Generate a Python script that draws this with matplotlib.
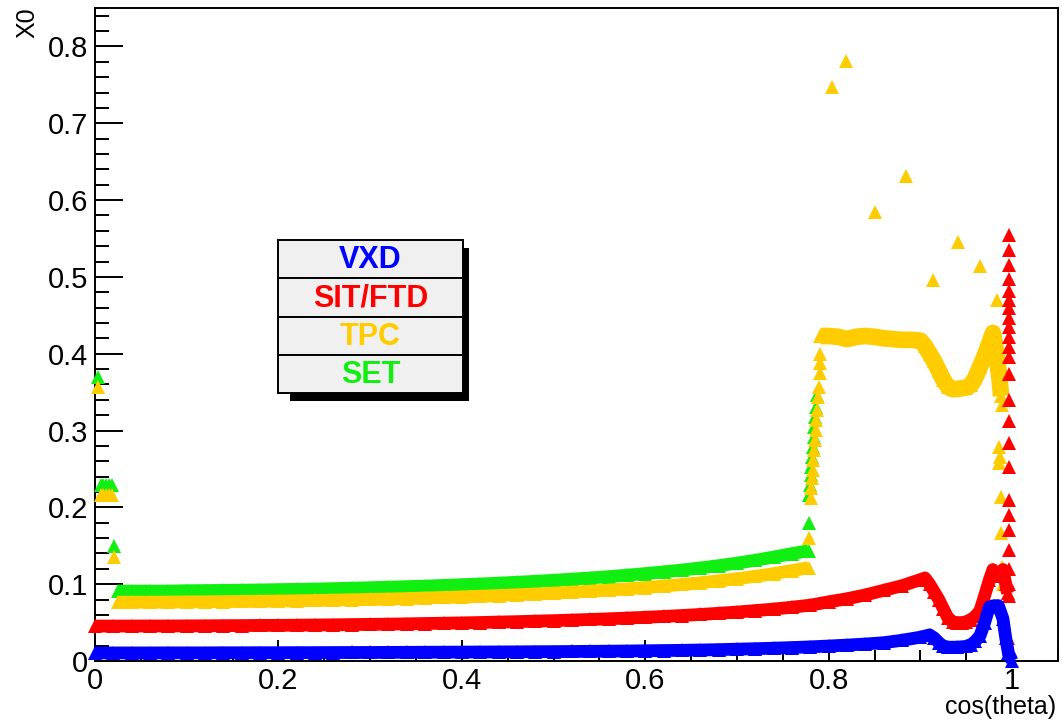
import matplotlib
matplotlib.use("Agg")
import matplotlib.pyplot as plt
from matplotlib.patches import Rectangle
from matplotlib.ticker import MultipleLocator

plt.rcParams['font.family'] = ['Liberation Sans', 'DejaVu Sans']

# ---------------- data ----------------
series_names = ["VXD", "SIT/FTD", "TPC", "SET"]
series_colors = {"VXD": "#0000ff", "SIT/FTD": "#ff0000", "TPC": "#ffcc00", "SET": "#11ee11"}

# SET (green)
set_band_x = [0.025, 0.04, 0.06, 0.08, 0.10, 0.12, 0.14, 0.16, 0.18, 0.20, 0.22, 0.24, 0.26, 0.28,
              0.30, 0.32, 0.34, 0.36, 0.38, 0.40, 0.42, 0.44, 0.46, 0.48, 0.50, 0.52, 0.54, 0.56,
              0.58, 0.60, 0.62, 0.64, 0.66, 0.68, 0.70, 0.72, 0.74, 0.76, 0.778]
set_band_y = [0.091, 0.091, 0.091, 0.091, 0.0915, 0.0917, 0.0919, 0.0922, 0.0925, 0.0929, 0.0933,
              0.0937, 0.0942, 0.0948, 0.0954, 0.0961, 0.0968, 0.0975, 0.0984, 0.0993, 0.1003,
              0.1013, 0.1025, 0.1037, 0.1051, 0.1065, 0.1081, 0.1098, 0.1117, 0.1138, 0.1160,
              0.1184, 0.1211, 0.1241, 0.1274, 0.1311, 0.1353, 0.1398, 0.1435]
set_pts_x = [0.003, 0.006, 0.009, 0.012, 0.015, 0.018, 0.021, 0.778, 0.779, 0.780, 0.781, 0.781,
             0.782, 0.783, 0.784, 0.784, 0.785, 0.786, 0.787]
set_pts_y = [0.370, 0.229, 0.229, 0.229, 0.229, 0.229, 0.150, 0.180, 0.216, 0.229, 0.242, 0.253,
             0.266, 0.279, 0.292, 0.305, 0.318, 0.331, 0.346]

# TPC (yellow)
tpc_band_x = [0.025, 0.04, 0.06, 0.08, 0.10, 0.12, 0.14, 0.16, 0.18, 0.20, 0.22, 0.24, 0.26, 0.28,
              0.30, 0.32, 0.34, 0.36, 0.38, 0.40, 0.42, 0.44, 0.46, 0.48, 0.50, 0.52, 0.54, 0.56,
              0.58, 0.60, 0.62, 0.64, 0.66, 0.68, 0.70, 0.72, 0.74, 0.76, 0.778]
tpc_band_y = [0.0765, 0.0766, 0.0766, 0.0767, 0.0769, 0.0771, 0.0773, 0.0775, 0.0778, 0.0781,
              0.0784, 0.0788, 0.0792, 0.0797, 0.0802, 0.0807, 0.0813, 0.0820, 0.0827, 0.0835,
              0.0843, 0.0852, 0.0862, 0.0872, 0.0883, 0.0896, 0.0909, 0.0923, 0.0939, 0.0956,
              0.0975, 0.0996, 0.1018, 0.1043, 0.1071, 0.1102, 0.1137, 0.1177, 0.1215]
tpc_top_x = [0.791, 0.80, 0.81, 0.82, 0.83, 0.84, 0.85, 0.86, 0.87, 0.88, 0.89, 0.90, 0.905, 0.91,
             0.915, 0.92, 0.925, 0.93, 0.935, 0.94, 0.945, 0.95, 0.955, 0.96, 0.965, 0.97, 0.975,
             0.979, 0.983, 0.986, 0.988]
tpc_top_y = [0.423, 0.423, 0.422, 0.419, 0.422, 0.423, 0.422, 0.420, 0.419, 0.418, 0.418, 0.417,
             0.410, 0.400, 0.390, 0.378, 0.366, 0.357, 0.354, 0.354, 0.355, 0.356, 0.359, 0.369,
             0.383, 0.397, 0.413, 0.427, 0.400, 0.370, 0.345]
tpc_pts_x = [0.003, 0.006, 0.009, 0.012, 0.015, 0.018, 0.021,
             0.779, 0.781, 0.781, 0.782, 0.783, 0.783, 0.784, 0.785, 0.786, 0.786, 0.787, 0.788,
             0.789, 0.790, 0.791, 0.791,
             0.804, 0.819, 0.851, 0.884, 0.914, 0.941, 0.965, 0.983,
             0.989, 0.986, 0.987, 0.986, 0.988, 0.988, 0.989, 0.990]
tpc_pts_y = [0.357, 0.216, 0.216, 0.216, 0.216, 0.216, 0.136,
             0.160, 0.212, 0.225, 0.238, 0.249, 0.262, 0.275, 0.288, 0.301, 0.314, 0.327, 0.343,
             0.357, 0.375, 0.388, 0.400,
             0.747, 0.781, 0.584, 0.631, 0.496, 0.545, 0.514, 0.470,
             0.333, 0.279, 0.266, 0.258, 0.214, 0.167, 0.122, 0.100]

# SIT/FTD (red)
sit_band_x = [0.0, 0.02, 0.04, 0.06, 0.08, 0.10, 0.12, 0.14, 0.16, 0.18, 0.20, 0.22, 0.24, 0.26,
              0.28, 0.30, 0.32, 0.34, 0.36, 0.38, 0.40, 0.42, 0.44, 0.46, 0.48, 0.50, 0.52, 0.54,
              0.56, 0.58, 0.60, 0.62, 0.64, 0.66, 0.68, 0.70, 0.72, 0.74, 0.76, 0.78, 0.80, 0.82,
              0.84, 0.86, 0.88, 0.90, 0.905, 0.91, 0.915, 0.92, 0.925, 0.93, 0.935, 0.94, 0.945,
              0.95, 0.955, 0.96, 0.965, 0.97, 0.975, 0.979, 0.983, 0.987, 0.990, 0.993, 0.995]
sit_band_y = [0.0455, 0.0455, 0.0455, 0.0456, 0.0456, 0.0457, 0.0458, 0.0460, 0.0461, 0.0463,
              0.0464, 0.0466, 0.0469, 0.0471, 0.0474, 0.0477, 0.0480, 0.0484, 0.0488, 0.0492,
              0.0496, 0.0501, 0.0507, 0.0512, 0.0519, 0.0525, 0.0533, 0.0541, 0.0549, 0.0559,
              0.0569, 0.0580, 0.0592, 0.0606, 0.0621, 0.0637, 0.0656, 0.0676, 0.0700, 0.0727,
              0.077, 0.081, 0.086, 0.092, 0.098, 0.106, 0.108, 0.100, 0.090, 0.080, 0.068, 0.056,
              0.051, 0.050, 0.050, 0.051, 0.054, 0.058, 0.066, 0.085, 0.105, 0.119, 0.110, 0.112,
              0.119, 0.100, 0.088]
sit_pts_x = [0.997] * 24 + [0.996, 0.997]
sit_pts_y = [0.555, 0.535, 0.516, 0.497, 0.482, 0.470, 0.459, 0.447, 0.435, 0.422, 0.409, 0.396,
             0.374, 0.340, 0.312, 0.284, 0.253, 0.210, 0.190, 0.170, 0.145, 0.120, 0.100, 0.085,
             0.030, 0.015]

# VXD (blue)
vxd_band_x = [0.0, 0.02, 0.04, 0.06, 0.08, 0.10, 0.12, 0.14, 0.16, 0.18, 0.20, 0.22, 0.24, 0.26,
              0.28, 0.30, 0.32, 0.34, 0.36, 0.38, 0.40, 0.42, 0.44, 0.46, 0.48, 0.50, 0.52, 0.54,
              0.56, 0.58, 0.60, 0.62, 0.64, 0.66, 0.68, 0.70, 0.72, 0.74, 0.76, 0.78, 0.80, 0.82,
              0.84, 0.86, 0.88, 0.90, 0.91, 0.915, 0.92, 0.925, 0.93, 0.94, 0.95, 0.955, 0.96,
              0.965, 0.97, 0.975, 0.98, 0.985, 0.99, 0.993, 0.996, 1.0]
vxd_band_y = [0.0105, 0.0105, 0.0105, 0.0105, 0.0106, 0.0106, 0.0106, 0.0107, 0.0107, 0.0108,
              0.0108, 0.0109, 0.0109, 0.0110, 0.0111, 0.0111, 0.0112, 0.0113, 0.0114, 0.0115,
              0.0116, 0.0117, 0.0118, 0.0119, 0.0121, 0.0122, 0.0124, 0.0126, 0.0128, 0.0130,
              0.0133, 0.0136, 0.0139, 0.0143, 0.0148, 0.0154, 0.0160, 0.0167, 0.0175, 0.0184,
              0.0195, 0.0207, 0.0221, 0.0238, 0.027, 0.031, 0.034, 0.030, 0.024, 0.019, 0.018,
              0.018, 0.019, 0.021, 0.026, 0.033, 0.050, 0.070, 0.072, 0.072, 0.055, 0.030, 0.010,
              0.0]

x_ticks = [0, 0.2, 0.4, 0.6, 0.8, 1]
x_tick_labels = ["0", "0.2", "0.4", "0.6", "0.8", "1"]
y_ticks = [0, 0.1, 0.2, 0.3, 0.4, 0.5, 0.6, 0.7, 0.8]
y_tick_labels = ["0", "0.1", "0.2", "0.3", "0.4", "0.5", "0.6", "0.7", "0.8"]

# ---------------- figure ----------------
W, H = 1062, 723
fig = plt.figure(figsize=(W / 100, H / 100), dpi=100)
ax = fig.add_axes([95 / W, 1 - 661 / H, (1058 - 95) / W, (661 - 8) / H])
ax.set_xlim(0, 1.05)
ax.set_ylim(0, 0.85)

MS = 10
BAND_LW = 9.2


def draw_band(x, y, c, lw=BAND_LW):
    ax.plot(x, y, '-', color=c, lw=lw, solid_joinstyle='round', solid_capstyle='butt',
            clip_on=False, zorder=3)
    ax.plot(x, y, '^', color=c, ms=MS, mew=0, ls='none', clip_on=False, zorder=3)


def draw_pts(x, y, c):
    ax.plot(x, y, '^', color=c, ms=MS, mew=0, ls='none', clip_on=False, zorder=3)


c = series_colors
draw_pts(set_pts_x, set_pts_y, c["SET"])
draw_band(set_band_x, set_band_y, c["SET"])
draw_band(tpc_band_x, tpc_band_y, c["TPC"])
draw_band(tpc_top_x, tpc_top_y, c["TPC"], lw=12)
draw_pts(tpc_pts_x, tpc_pts_y, c["TPC"])
draw_band(sit_band_x, sit_band_y, c["SIT/FTD"])
draw_pts(sit_pts_x, sit_pts_y, c["SIT/FTD"])
draw_band(vxd_band_x, vxd_band_y, c["VXD"])

# axes style (ROOT-like)
for s in ax.spines.values():
    s.set_linewidth(1.4)
ax.set_xticks(x_ticks)
ax.set_xticklabels(x_tick_labels)
ax.set_yticks(y_ticks)
ax.set_yticklabels(y_tick_labels)
ax.xaxis.set_minor_locator(MultipleLocator(0.05))
ax.yaxis.set_minor_locator(MultipleLocator(0.02))
ax.tick_params(axis='both', which='both', direction='in', top=False, right=False,
               labelsize=21, width=1.4)
ax.tick_params(axis='y', which='major', length=20, pad=5)
ax.tick_params(axis='y', which='minor', length=10)
ax.tick_params(axis='x', which='major', length=15, pad=4)
ax.tick_params(axis='x', which='minor', length=8)

fig.text(27 / W, 1 - 7 / H, "X0", rotation=90, ha='center', va='top', fontsize=18)
fig.text(1056 / W, 1 - 719 / H, "cos(theta)", ha='right', va='bottom', fontsize=18)

# legend boxes (ROOT TPaveText style with shadow)
def fx(px):
    return px / W


def fy(py):
    return 1 - py / H


lx0, lx1, ly0, ly1 = 278, 463, 240, 393
shadow = Rectangle((fx(290), fy(401)), fx(469) - fx(290), fy(248) - fy(401),
                   transform=fig.transFigure, facecolor='black', edgecolor='none', zorder=10)
fig.add_artist(shadow)
row_h = (ly1 - ly0) / 4
for i, name in enumerate(series_names):
    top = ly0 + i * row_h
    r = Rectangle((fx(lx0), fy(top + row_h)), fx(lx1) - fx(lx0), fy(top) - fy(top + row_h),
                  transform=fig.transFigure, facecolor='#f0f0f0', edgecolor='black',
                  linewidth=1.4, zorder=11)
    fig.add_artist(r)
    fig.text(fx((lx0 + lx1) / 2), fy(top + row_h / 2 + 1), name, ha='center', va='center',
             fontsize=22, fontweight='bold', color=series_colors[name], zorder=12)

fig.savefig("out.png", dpi=100)
